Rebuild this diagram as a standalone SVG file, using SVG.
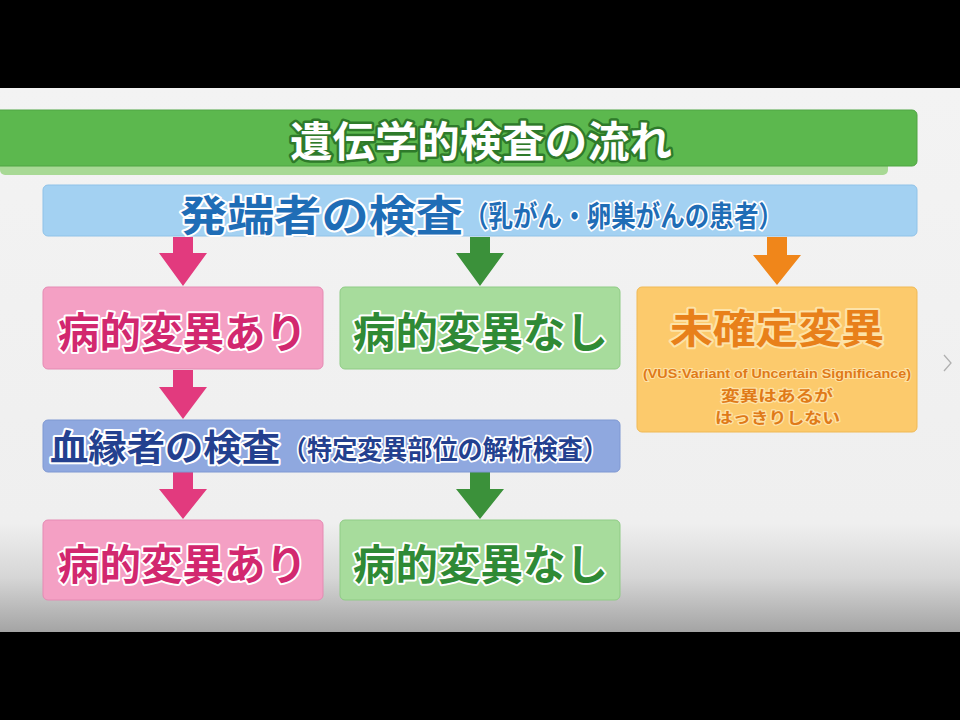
<svg xmlns="http://www.w3.org/2000/svg" width="960" height="720" viewBox="0 0 960 720">
<defs>
<linearGradient id="bgGrad" x1="0" y1="0" x2="0" y2="1">
<stop offset="0" stop-color="#f3f3f3"/>
<stop offset="0.8" stop-color="#efefef"/>
<stop offset="0.9" stop-color="#d6d6d6"/>
<stop offset="1" stop-color="#a4a4a4"/>
</linearGradient>
<style>
.jp{font-family:"Noto Sans CJK JP","Noto Sans CJK SC",sans-serif;font-weight:700;dominant-baseline:central;paint-order:stroke fill;stroke-linejoin:round}
.big{font-size:42px;stroke:#ffffff;stroke-width:4px}
.pinkT{fill:#d2286f}
.greenT{fill:#2f8a35}
.box{stroke-width:1}
.pinkB{fill:#f4a0c4;stroke:#e58ab3}
.greenB{fill:#a7dc9c;stroke:#8fcb85}
.small{font-size:15px;fill:#e07a18;stroke:#fde3a8;stroke-width:2.5px}
</style>
</defs>
<rect x="0" y="0" width="960" height="720" fill="#000000"/>
<rect x="0" y="88" width="960" height="544" fill="url(#bgGrad)"/>

<g id="title">
<rect x="0" y="112" width="888" height="63" rx="5" fill="#a8d995"/>
<rect x="-10" y="110" width="927" height="56" rx="5" fill="#5cb84e" stroke="#4fa543" stroke-width="1"/>
<text class="jp" x="290" y="138" font-size="42" textLength="382" lengthAdjust="spacingAndGlyphs" fill="#ffffff" stroke="#2e7a2a" stroke-width="5">遺伝学的検査の流れ</text>
</g>

<g id="proband">
<rect x="43" y="185" width="874" height="51" rx="5" fill="#a3d1f2" stroke="#8fc2e8" stroke-width="1"/>
<text class="jp" x="180" y="212" font-size="42" textLength="283" lengthAdjust="spacingAndGlyphs" fill="#1f6db6" stroke="#ffffff" stroke-width="4">発端者の検査</text>
<text class="jp" x="464" y="214" font-size="29" textLength="319" lengthAdjust="spacingAndGlyphs" fill="#1f6db6" stroke="#ffffff" stroke-width="3.5">（乳がん・卵巣がんの患者）</text>
</g>

<g id="connectors">
<polygon points="173,237 193,237 193,253 207,253 183,286 159,253 173,253" fill="#e23a7e"/>
<polygon points="470,237 490,237 490,253 504,253 480,286 456,253 470,253" fill="#3b913a"/>
<polygon points="767,237 787,237 787,255 801,255 777,285 753,255 767,255" fill="#f0861a"/>
<polygon points="173,370 193,370 193,387 207,387 183,419 159,387 173,387" fill="#e23a7e"/>
<polygon points="173,472 193,472 193,489 207,489 183,519 159,489 173,489" fill="#e23a7e"/>
<polygon points="470,472 490,472 490,489 504,489 480,519 456,489 470,489" fill="#3b913a"/>
</g>

<g id="positive1">
<rect class="box pinkB" x="43" y="287" width="280" height="82" rx="5"/>
<text class="jp big pinkT" x="58" y="329" textLength="249" lengthAdjust="spacingAndGlyphs">病的変異あり</text>
</g>

<g id="negative1">
<rect class="box greenB" x="340" y="287" width="280" height="82" rx="5"/>
<text class="jp big greenT" x="353" y="329" textLength="255" lengthAdjust="spacingAndGlyphs">病的変異なし</text>
</g>

<g id="vus">
<rect x="637" y="287" width="280" height="145" rx="5" fill="#fcca6c" stroke="#f0b954" stroke-width="1"/>
<text class="jp" x="670" y="326" font-size="40" textLength="214" lengthAdjust="spacingAndGlyphs" fill="#e8801a" stroke="#fde3a8" stroke-width="4">未確定変異</text>
<text x="777" y="373" font-family="'Liberation Sans',Arial,sans-serif" font-weight="700" font-size="13" text-anchor="middle" dominant-baseline="central" textLength="268" lengthAdjust="spacingAndGlyphs" fill="#e07a18" stroke="#fde3a8" stroke-width="2" paint-order="stroke fill">(VUS:Variant of Uncertain Significance)</text>
<text class="jp small" x="721" y="394" textLength="112" lengthAdjust="spacingAndGlyphs">変異はあるが</text>
<text class="jp small" x="715" y="416" textLength="125" lengthAdjust="spacingAndGlyphs">はっきりしない</text>
</g>

<g id="relatives">
<rect x="43" y="420" width="577" height="52" rx="5" fill="#8fa8df" stroke="#7f98d2" stroke-width="1"/>
<text class="jp" x="50" y="445" font-size="36" textLength="230" lengthAdjust="spacingAndGlyphs" fill="#23408f" stroke="#ffffff" stroke-width="4">血縁者の検査</text>
<text class="jp" x="282" y="447" font-size="26" textLength="326" lengthAdjust="spacingAndGlyphs" fill="#23408f" stroke="#ffffff" stroke-width="3.5">（特定変異部位の解析検査）</text>
</g>

<g id="positive2">
<rect class="box pinkB" x="43" y="520" width="280" height="80" rx="5"/>
<text class="jp big pinkT" x="58" y="561" textLength="249" lengthAdjust="spacingAndGlyphs">病的変異あり</text>
</g>

<g id="negative2">
<rect class="box greenB" x="340" y="520" width="280" height="80" rx="5"/>
<text class="jp big greenT" x="353" y="561" textLength="255" lengthAdjust="spacingAndGlyphs">病的変異なし</text>
</g>

<polyline points="944,355 951,363 944,371" fill="none" stroke="#b0b0b0" stroke-width="1.3"/>
</svg>
